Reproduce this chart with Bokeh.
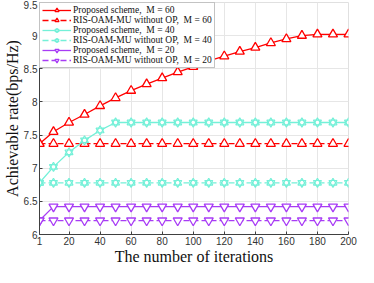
from bokeh.plotting import figure
from bokeh.models import Legend, LegendItem, FixedTicker, Range1d
from bokeh.embed import file_html
from bokeh.resources import INLINE

iters = [1, 10, 20, 30, 40, 50, 60, 70, 80, 90, 100, 110, 120, 130, 140, 150, 160, 170, 180, 190, 200]
prop_m60 = [7.37, 7.55, 7.69, 7.81, 7.94, 8.06, 8.17, 8.27, 8.36, 8.45, 8.53, 8.62, 8.69, 8.76, 8.82, 8.89, 8.95, 9.00, 9.02, 9.02, 9.02]
base_m60 = [7.37, 7.37, 7.37, 7.37, 7.37, 7.37, 7.37, 7.37, 7.37, 7.37, 7.37, 7.37, 7.37, 7.37, 7.37, 7.37, 7.37, 7.37, 7.37, 7.37, 7.37]
prop_m40 = [6.78, 7.02, 7.24, 7.42, 7.57, 7.69, 7.69, 7.69, 7.69, 7.69, 7.69, 7.69, 7.69, 7.69, 7.69, 7.69, 7.69, 7.69, 7.69, 7.69, 7.69]
base_m40 = [6.78, 6.78, 6.78, 6.78, 6.78, 6.78, 6.78, 6.78, 6.78, 6.78, 6.78, 6.78, 6.78, 6.78, 6.78, 6.78, 6.78, 6.78, 6.78, 6.78, 6.78]
prop_m20 = [6.21, 6.42, 6.42, 6.42, 6.42, 6.42, 6.42, 6.42, 6.42, 6.42, 6.42, 6.42, 6.42, 6.42, 6.42, 6.42, 6.42, 6.42, 6.42, 6.42, 6.42]
base_m20 = [6.21, 6.21, 6.21, 6.21, 6.21, 6.21, 6.21, 6.21, 6.21, 6.21, 6.21, 6.21, 6.21, 6.21, 6.21, 6.21, 6.21, 6.21, 6.21, 6.21, 6.21]

labels = [
    "Proposed scheme,  M = 60",
    "RIS-OAM-MU without OP,  M = 60",
    "Proposed scheme,  M = 40",
    "RIS-OAM-MU without OP,  M = 40",
    "Proposed scheme,  M = 20",
    "RIS-OAM-MU without OP,  M = 20",
]
x_ticks = [1, 20, 40, 60, 80, 100, 120, 140, 160, 180, 200]
y_ticks = [6, 6.5, 7, 7.5, 8, 8.5, 9, 9.5]
y_tick_labels = ["6", "6.5", "7", "7.5", "8", "8.5", "9", "9.5"]

RED = "#ff0000"
CYAN = "#74f0d8"
PURPLE = "#a83cf5"

p = figure(width=358, height=267, output_backend="svg", toolbar_location=None,
           x_range=Range1d(1, 200), y_range=Range1d(6, 9.5),
           min_border_left=0, min_border_right=10, min_border_top=2, min_border_bottom=0)
p.background_fill_color = "white"
p.border_fill_color = "white"
p.outline_line_color = "#e0e0e0"

for ax in (p.xaxis[0], p.yaxis[0]):
    ax.axis_line_color = "#404040"
    ax.major_tick_line_color = "#404040"
    ax.major_tick_in = 3
    ax.major_tick_out = 0
    ax.minor_tick_line_color = None
    ax.major_label_text_font = "Liberation Sans"
    ax.major_label_text_font_size = "10px"
    ax.major_label_text_color = "#333333"
    ax.axis_label_text_font = "Liberation Serif"
    ax.axis_label_text_font_size = "16px"
    ax.axis_label_text_font_style = "normal"
    ax.axis_label_text_color = "#111111"
    ax.major_label_standoff = 2
    ax.axis_label_standoff = 0

p.xaxis[0].ticker = FixedTicker(ticks=x_ticks)
p.yaxis[0].ticker = FixedTicker(ticks=y_ticks)
p.yaxis[0].major_label_overrides = {t: s for t, s in zip(y_ticks, y_tick_labels)}
p.xaxis[0].axis_label = "The number of iterations"
p.yaxis[0].axis_label = "Achievable rate(bps/Hz)"

p.xgrid.ticker = FixedTicker(ticks=x_ticks)
p.ygrid.ticker = FixedTicker(ticks=y_ticks)
p.xgrid.grid_line_color = "#e6e6e6"
p.ygrid.grid_line_color = "#e6e6e6"

series = [
    (prop_m60, RED, "solid", "tri"),
    (base_m60, RED, "6 3", "tri"),
    (prop_m40, CYAN, "solid", "hexa"),
    (base_m40, CYAN, "6 3", "hexa"),
    (prop_m20, PURPLE, "solid", "inv"),
    (base_m20, PURPLE, "6 3", "inv"),
]

items = []
for (ys, col, dash, mk), lab in zip(series, labels):
    rs = []
    rs.append(p.line(iters, ys, line_color=col, line_width=1.3, line_dash=dash))
    if mk == "tri":
        rs.append(p.scatter(iters, ys, marker="triangle", size=9, line_color=col,
                            fill_color="white", line_width=1.3))
    elif mk == "inv":
        rs.append(p.scatter(iters, ys, marker="inverted_triangle", size=9, line_color=col,
                            fill_color="white", line_width=1.3))
    else:
        rs.append(p.scatter(iters, ys, marker="triangle", size=8, line_color=col,
                            fill_color="white", line_width=1.2))
        rs.append(p.scatter(iters, ys, marker="inverted_triangle", size=8, line_color=col,
                            fill_color=None, line_width=1.2))
    items.append(LegendItem(label=lab, renderers=rs))

legend = Legend(items=items, location="top_left",
                border_line_color="#888888", border_line_width=1,
                background_fill_color="white", background_fill_alpha=1,
                label_text_font="Liberation Serif", label_text_font_size="9.5px",
                label_text_color="#111111",
                glyph_width=29, glyph_height=10, label_height=10,
                label_standoff=2, spacing=0, padding=2, margin=0)
p.add_layout(legend)

open("out.html", "w").write(file_html(p, INLINE))
